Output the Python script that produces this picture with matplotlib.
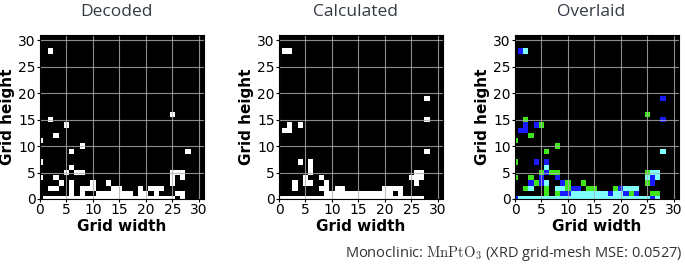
import numpy as np
import matplotlib
matplotlib.use("Agg")
import matplotlib.pyplot as plt
from matplotlib.colors import ListedColormap

plt.rcParams['mathtext.fontset'] = 'cm'

grid_size = 32
panel_titles = ["Decoded", "Calculated", "Overlaid"]
tick_values = [0, 5, 10, 15, 20, 25, 30]

# occupied cells (x, y)
decoded_upper = [(2, 28), (25, 16), (2, 15), (5, 14), (3, 12), (0, 11), (8, 10),
                 (6, 9), (28, 9), (0, 7), (6, 6), (5, 5), (7, 5), (8, 5),
                 (25, 5), (26, 5), (27, 5), (0, 4), (3, 4), (25, 4), (27, 4)]
decoded_row3 = [4, 6, 10, 13, 25]
decoded_row2 = [2, 3, 6, 8, 9, 10, 14, 15, 19, 21, 22, 23]
decoded_row1 = [6, 8, 11, 12, 13, 14, 15, 16, 17, 19, 20, 22, 26, 27]
decoded_row0 = list(range(1, 26)) + [27]

calculated_upper = [(1, 28), (2, 28), (28, 19), (28, 15), (2, 14), (4, 14),
                    (1, 13), (2, 13), (28, 9), (4, 7), (6, 7), (6, 6), (6, 5),
                    (26, 5), (27, 5), (5, 4), (8, 4), (25, 4), (26, 4), (27, 4)]
calculated_row3 = [3, 5, 6, 9, 26]
calculated_row2 = [3, 8, 9, 11, 12, 20, 21, 22, 23]
calculated_row1 = list(range(9, 22)) + [23]
calculated_row0 = list(range(0, 28))

overlay_colors = ["#000000", "#3fe61a", "#1a1aff", "#80ffff"]


def build_grid(upper, rows):
    g = np.zeros((grid_size, grid_size))
    for x, y in upper:
        g[y, x] = 1
    for y, row in enumerate(rows):
        for x in row:
            g[y, x] = 1
    return g


decoded = build_grid(decoded_upper, [decoded_row0, decoded_row1, decoded_row2, decoded_row3])
calculated = build_grid(calculated_upper, [calculated_row0, calculated_row1, calculated_row2, calculated_row3])
overlay = decoded * 1 + calculated * 2

fig = plt.figure(figsize=(6.85, 2.76), dpi=100)
lefts = [40 / 685, 279 / 685, 515 / 685]
w = 164 / 685
h = 164 / 276
b = 77 / 276

images = [(decoded, ListedColormap(["black", "white"]), 1),
          (calculated, ListedColormap(["black", "white"]), 1),
          (overlay, ListedColormap(overlay_colors), 3)]

for left, title, (data, cmap, vmax) in zip(lefts, panel_titles, images):
    ax = fig.add_axes([left, b, w, h])
    ax.imshow(data, cmap=cmap, vmin=0, vmax=vmax, origin='lower',
              interpolation='nearest', aspect='auto')
    ax.set_xlim(0, 31)
    ax.set_ylim(0, 31)
    ax.set_xticks(tick_values)
    ax.set_yticks(tick_values)
    ax.tick_params(labelsize=10, length=2, pad=1)
    ax.grid(True, color='#b0b0b0', linewidth=0.8, alpha=0.8)
    ax.set_xlabel("Grid width", fontsize=11, fontweight='bold', labelpad=1)
    ax.set_ylabel("Grid height", fontsize=11, fontweight='bold', labelpad=2)
    fig.text(left + w / 2 - 0.008, 0.955, title, ha='center', va='center',
             fontsize=12.5, family='Open Sans', color='#333a44')

fig.text(0.997, 0.08, r"Monoclinic: $\mathrm{MnPtO_3}$ (XRD grid-mesh MSE: 0.0527)",
         ha='right', va='center', fontsize=10.5, family='Open Sans', color='#333333')

fig.savefig("out.png", dpi=100)
